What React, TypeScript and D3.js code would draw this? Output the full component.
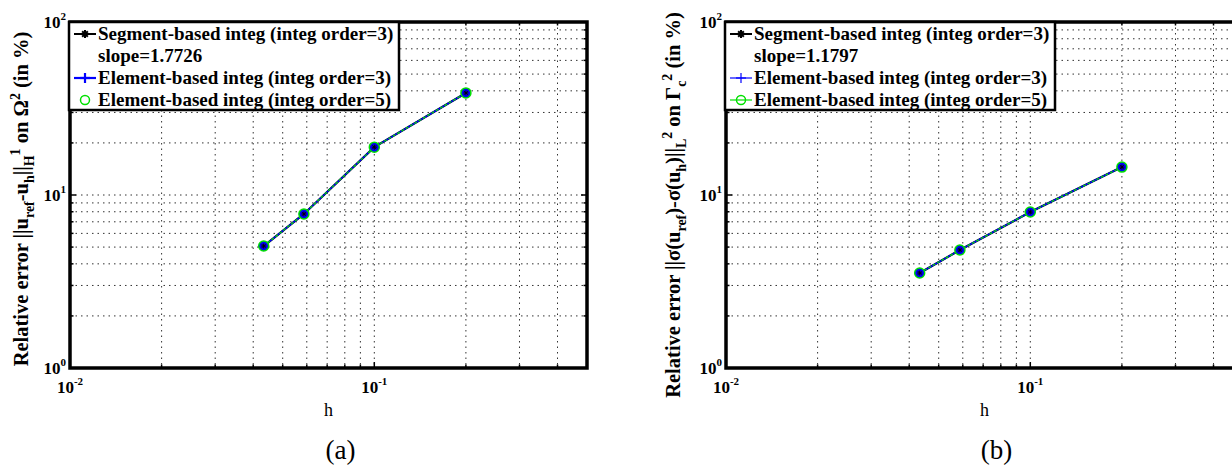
import React from 'react';
import * as d3 from 'd3';

// ---- data ----
const hValues = [0.0433, 0.0587, 0.1, 0.2];
const errH1Segment = [5.07, 7.77, 18.9, 38.9];
const errH1Element3 = [5.07, 7.77, 18.9, 38.9];
const errH1Element5 = [5.07, 7.77, 18.9, 38.9];
const errL2Segment = [3.54, 4.81, 7.97, 14.5];
const errL2Element3 = [3.54, 4.81, 7.97, 14.5];
const errL2Element5 = [3.54, 4.81, 7.97, 14.5];

const xDomain = [0.01, 0.5];
const yDomain = [1, 100];
const xMajorTicks = [0.01, 0.1];
const xMajorExponents = ['-2', '-1'];
const yMajorTicks = [1, 10, 100];
const yMajorExponents = ['0', '1', '2'];

const legendLabels = [
  'Segment-based integ (integ order=3)',
  'Element-based integ (integ order=3)',
  'Element-based integ (integ order=5)',
];
const slopeLabels = ['slope=1.7726', 'slope=1.1797'];
const panelLabels = ['(a)', '(b)'];
const xAxisLabel = 'h';

const FONT = "'Liberation Serif', 'DejaVu Serif', serif";

const TOP = 22;
const BOTTOM = 368;

type Part = { t: string; s?: 'sub' | 'sup' };

function RichText({ parts, size }: { parts: Part[]; size: number }) {
  const out: any[] = [];
  let shift = 0;
  parts.forEach((p, i) => {
    let target = 0;
    if (p.s === 'sub') target = size * 0.3;
    if (p.s === 'sup') target = -size * 0.4;
    const dy = target - shift;
    shift = target;
    out.push(
      <tspan key={i} dy={dy} style={{ fontSize: p.s ? size * 0.68 : size }}>
        {p.t}
      </tspan>
    );
  });
  return <>{out}</>;
}

function Asterisk({ x, y, r, color, w }: any) {
  const d = r * 0.7071;
  return (
    <g stroke={color} strokeWidth={w}>
      <line x1={x - r} y1={y} x2={x + r} y2={y} />
      <line x1={x} y1={y - r} x2={x} y2={y + r} />
      <line x1={x - d} y1={y - d} x2={x + d} y2={y + d} />
      <line x1={x - d} y1={y + d} x2={x + d} y2={y - d} />
    </g>
  );
}

function Plus({ x, y, r, color, w }: any) {
  return (
    <g stroke={color} strokeWidth={w}>
      <line x1={x - r} y1={y} x2={x + r} y2={y} />
      <line x1={x} y1={y - r} x2={x} y2={y + r} />
    </g>
  );
}

const txt = (size: number, bold: boolean) => ({
  fontFamily: FONT,
  fontSize: size,
  fontWeight: bold ? 'bold' : 'normal',
});

function Panel({
  x0,
  x1,
  segment,
  element3,
  element5,
  slope,
  label,
  yLabelParts,
  yLabelX,
  yLabelY,
  idx,
}: any) {
  const xs = d3.scaleLog().domain(xDomain).range([x0, x1]);
  const ys = d3.scaleLog().domain(yDomain).range([BOTTOM, TOP]);
  const xGrid = xs.ticks();
  const yGrid = ys.ticks();
  const line = d3
    .line<[number, number]>()
    .x((d) => xs(d[0]))
    .y((d) => ys(d[1]));
  const segPts = hValues.map((h, i) => [h, segment[i]] as [number, number]);
  const e3Pts = hValues.map((h, i) => [h, element3[i]] as [number, number]);
  const e5Pts = hValues.map((h, i) => [h, element5[i]] as [number, number]);
  const clipId = 'clip' + idx;
  const isMajor = (v: number) => Math.abs(Math.log10(v) - Math.round(Math.log10(v))) < 1e-6;

  const legX = x0 - 1;
  const legW = 330;
  const legY = TOP;
  const legH = 88;
  const rowY = [34, 56, 78, 100];
  const sampleX0 = x0 + 4;
  const sampleX1 = x0 + 26;
  const sampleC = x0 + 15;
  const textX = x0 + 28;

  return (
    <g>
      <defs>
        <clipPath id={clipId}>
          <rect x={x0} y={TOP} width={x1 - x0} height={BOTTOM - TOP} />
        </clipPath>
      </defs>
      <g clipPath={`url(#${clipId})`}>
        <rect x={x0} y={TOP} width={x1 - x0} height={BOTTOM - TOP} fill="#fff" />
        {xGrid.map((v, i) => (
          <line
            key={'gx' + i}
            x1={xs(v)}
            x2={xs(v)}
            y1={TOP}
            y2={BOTTOM}
            stroke="#333"
            strokeWidth={1}
            strokeDasharray="1.5,4"
          />
        ))}
        {yGrid.map((v, i) => (
          <line
            key={'gy' + i}
            x1={x0}
            x2={x1}
            y1={ys(v)}
            y2={ys(v)}
            stroke="#333"
            strokeWidth={1}
            strokeDasharray="1.5,4"
          />
        ))}
        {xGrid.map((v, i) => {
          const len = isMajor(v) ? 6 : 3.5;
          return (
            <g key={'tx' + i} stroke="#000" strokeWidth={1.5}>
              <line x1={xs(v)} x2={xs(v)} y1={BOTTOM} y2={BOTTOM - len} />
              <line x1={xs(v)} x2={xs(v)} y1={TOP} y2={TOP + len} />
            </g>
          );
        })}
        {yGrid.map((v, i) => {
          const len = isMajor(v) ? 6 : 3.5;
          return (
            <g key={'ty' + i} stroke="#000" strokeWidth={1.5}>
              <line x1={x0} x2={x0 + len} y1={ys(v)} y2={ys(v)} />
              <line x1={x1} x2={x1 - len} y1={ys(v)} y2={ys(v)} />
            </g>
          );
        })}
        <path d={line(segPts) || ''} fill="none" stroke="#000" strokeWidth={2.2} />
        <path d={line(e3Pts) || ''} fill="none" stroke="#0000ff" strokeWidth={1.6} />
        <path
          d={line(e5Pts) || ''}
          fill="none"
          stroke="#00e000"
          strokeWidth={1.2}
          strokeDasharray="3,2"
        />
        {e5Pts.map((p, i) => (
          <circle
            key={'c' + i}
            cx={xs(p[0])}
            cy={ys(p[1])}
            r={5}
            fill="#0000ee"
            stroke="#00e000"
            strokeWidth={1.5}
          />
        ))}
        {e3Pts.map((p, i) => (
          <Plus key={'p' + i} x={xs(p[0])} y={ys(p[1])} r={4} color="#0000ff" w={1.5} />
        ))}
        {segPts.map((p, i) => (
          <Asterisk key={'s' + i} x={xs(p[0])} y={ys(p[1])} r={2.5} color="#000" w={1} />
        ))}
      </g>
      <rect
        x={x0}
        y={TOP}
        width={x1 - x0}
        height={BOTTOM - TOP}
        fill="none"
        stroke="#000"
        strokeWidth={3.5}
      />
      {yMajorTicks.map((v, i) => (
        <text key={'yl' + i} x={x0 - 4} y={ys(v) + 6} textAnchor="end" style={txt(17, true)}>
          <tspan>10</tspan>
          <tspan dy={-8} style={{ fontSize: 11 }}>
            {yMajorExponents[i]}
          </tspan>
        </text>
      ))}
      {xMajorTicks.map((v, i) => (
        <text key={'xl' + i} x={xs(v)} y={BOTTOM + 25} textAnchor="middle" style={txt(17, true)}>
          <tspan>10</tspan>
          <tspan dy={-8} style={{ fontSize: 11 }}>
            {xMajorExponents[i]}
          </tspan>
        </text>
      ))}
      <text x={(x0 + x1) / 2} y={416} textAnchor="middle" style={txt(18, false)}>
        {xAxisLabel}
      </text>
      <text x={(x0 + x1) / 2 + 12} y={459} textAnchor="middle" style={txt(27, false)}>
        {label}
      </text>
      <text
        transform={`translate(${yLabelX},${yLabelY}) rotate(-90)`}
        textAnchor="middle"
        style={txt(20.5, true)}
      >
        <RichText parts={yLabelParts} size={20.5} />
      </text>
      <rect x={legX} y={legY} width={legW} height={legH} fill="#fff" stroke="#000" strokeWidth={2.5} />
      <line x1={sampleX0} x2={sampleX1} y1={rowY[0]} y2={rowY[0]} stroke="#000" strokeWidth={2} />
      <Asterisk x={sampleC} y={rowY[0]} r={4} color="#000" w={2} />
      <line
        x1={sampleX0}
        x2={sampleX1}
        y1={rowY[2]}
        y2={rowY[2]}
        stroke="#0000ff"
        strokeWidth={idx === 0 ? 2.2 : 1.2}
      />
      <Plus x={sampleC} y={rowY[2]} r={5} color="#0000ff" w={idx === 0 ? 2.2 : 1.2} />
      {idx === 1 && (
        <line x1={sampleX0} x2={sampleX1} y1={rowY[3]} y2={rowY[3]} stroke="#00e000" strokeWidth={1.2} />
      )}
      <circle cx={sampleC} cy={rowY[3]} r={4.5} fill="none" stroke="#00e000" strokeWidth={1.5} />
      {[legendLabels[0], slope, legendLabels[1], legendLabels[2]].map((t, i) => (
        <text key={'lt' + i} x={textX} y={rowY[i] + 6} style={txt(19, true)}>
          {t}
        </text>
      ))}
    </g>
  );
}

const yLabelLeft: Part[] = [
  { t: 'Relative error ||u' },
  { t: 'ref', s: 'sub' },
  { t: '-u' },
  { t: 'h', s: 'sub' },
  { t: '||' },
  { t: 'H', s: 'sub' },
  { t: '1', s: 'sup' },
  { t: ' on Ω' },
  { t: '2', s: 'sup' },
  { t: ' (in %)' },
];

const yLabelRight: Part[] = [
  { t: 'Relative error ||σ(u' },
  { t: 'ref', s: 'sub' },
  { t: ')-σ(u' },
  { t: 'h', s: 'sub' },
  { t: ')||' },
  { t: 'L', s: 'sub' },
  { t: '2', s: 'sup' },
  { t: ' on Γ' },
  { t: 'c', s: 'sub' },
  { t: '2', s: 'sup' },
  { t: ' (in %)' },
];

export default function App() {
  return (
    <svg
      width={1232}
      height={466}
      style={{ position: 'absolute', left: 0, top: 0, background: '#fff' }}
    >
      <rect x={0} y={0} width={1232} height={466} fill="#fff" />
      <Panel
        idx={0}
        x0={70}
        x1={587}
        segment={errH1Segment}
        element3={errH1Element3}
        element5={errH1Element5}
        slope={slopeLabels[0]}
        label={panelLabels[0]}
        yLabelParts={yLabelLeft}
        yLabelX={28}
        yLabelY={199}
      />
      <Panel
        idx={1}
        x0={726}
        x1={1243}
        segment={errL2Segment}
        element3={errL2Element3}
        element5={errL2Element5}
        slope={slopeLabels[1]}
        label={panelLabels[1]}
        yLabelParts={yLabelRight}
        yLabelX={680}
        yLabelY={205}
      />
    </svg>
  );
}
